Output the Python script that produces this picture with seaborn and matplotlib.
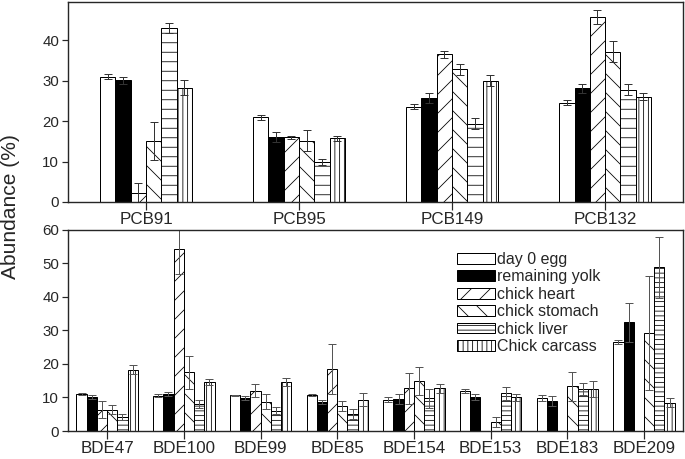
import pandas as pd
import matplotlib
matplotlib.use('Agg')
import matplotlib.pyplot as plt
import seaborn as sns

DPI = 57


def px(v):
    # pixel size -> points at this dpi
    return v * 72 / DPI


sns.set_style('ticks')
plt.rcParams['font.family'] = ['Liberation Sans', 'DejaVu Sans']
plt.rcParams['hatch.color'] = 'black'
plt.rcParams['hatch.linewidth'] = px(0.8)

tissues = ['day 0 egg', 'remaining yolk', 'chick heart', 'chick stomach', 'chick liver', 'Chick carcass']
colors = ['white', 'black', 'white', 'white', 'white', 'white']
top_hatches = ['', '', '/', '\\', '-', '||']
bottom_hatches = ['', '', '/', '\\', '--', '||']

# PCB panel
pcb_names = ['PCB91', 'PCB95', 'PCB149', 'PCB132']
pcb_egg = [31.0, 20.9, 23.6, 24.6]
pcb_yolk = [30.1, 16.0, 25.8, 28.1]
pcb_heart = [2.3, 16.0, 36.5, 45.8]
pcb_stomach = [15.2, 15.1, 32.8, 37.1]
pcb_liver = [43.1, 9.9, 19.4, 27.8]
pcb_carcass = [28.3, 15.7, 30.0, 26.0]
pcb_egg_err = [0.7, 0.7, 0.7, 0.6]
pcb_yolk_err = [0.8, 1.2, 1.2, 1.2]
pcb_heart_err = [2.3, 0.4, 0.8, 1.8]
pcb_stomach_err = [4.7, 2.6, 1.4, 2.6]
pcb_liver_err = [1.2, 0.8, 1.3, 1.4]
pcb_carcass_err = [1.8, 0.5, 1.4, 0.9]

# BDE panel
bde_names = ['BDE47', 'BDE100', 'BDE99', 'BDE85', 'BDE154', 'BDE153', 'BDE183', 'BDE209']
bde_egg = [10.9, 10.5, 10.6, 10.8, 9.4, 11.9, 9.9, 26.6]
bde_yolk = [10.2, 11.1, 9.8, 8.7, 9.5, 10.2, 8.9, 32.4]
bde_heart = [6.4, 54.3, 12.0, 18.6, 12.7, 0, 0, 0]
bde_stomach = [6.4, 17.5, 8.8, 7.5, 14.9, 2.7, 13.3, 29.3]
bde_liver = [4.2, 8.2, 6.1, 5.0, 9.7, 11.2, 12.5, 48.8]
bde_carcass = [18.3, 14.6, 14.5, 9.4, 12.7, 10.0, 12.5, 8.5]
bde_egg_err = [0.3, 0.5, 0.1, 0.3, 0.8, 0.6, 0.8, 0.5]
bde_yolk_err = [0.6, 0.6, 0.6, 0.7, 1.5, 0.9, 1.5, 5.7]
bde_heart_err = [2.5, 7.3, 1.9, 7.5, 4.6, 0, 0, 0]
bde_stomach_err = [1.3, 5.0, 2.1, 1.6, 4.1, 1.5, 4.2, 17.0]
bde_liver_err = [1.0, 1.2, 1.0, 1.5, 2.7, 2.0, 1.9, 9.2]
bde_carcass_err = [1.4, 1.0, 1.2, 2.0, 1.3, 1.0, 2.4, 1.3]


def long_table(names, vals, errs):
    rows = []
    for t, v, e in zip(tissues, vals, errs):
        for n, vi, ei in zip(names, v, e):
            rows.append({'congener': n, 'tissue': t, 'value': vi, 'err': ei})
    return pd.DataFrame(rows)


pcb = long_table(pcb_names,
                 [pcb_egg, pcb_yolk, pcb_heart, pcb_stomach, pcb_liver, pcb_carcass],
                 [pcb_egg_err, pcb_yolk_err, pcb_heart_err, pcb_stomach_err, pcb_liver_err, pcb_carcass_err])
bde = long_table(bde_names,
                 [bde_egg, bde_yolk, bde_heart, bde_stomach, bde_liver, bde_carcass],
                 [bde_egg_err, bde_yolk_err, bde_heart_err, bde_stomach_err, bde_liver_err, bde_carcass_err])

pal = dict(zip(tissues, colors))

fig = plt.figure(figsize=(685 / DPI, 459 / DPI), dpi=DPI)
ax1 = fig.add_axes([0.0993, 0.560, 0.898, 0.436])
ax2 = fig.add_axes([0.0993, 0.061, 0.898, 0.438])


def draw(ax, df, width, hatches, ecol, cap):
    sns.barplot(data=df, x='congener', y='value', hue='tissue', hue_order=tissues,
                palette=pal, saturation=1, width=width, errorbar=None,
                edgecolor='black', linewidth=px(1.0), legend=False, ax=ax)
    for cont, h, t in zip(ax.containers, hatches, tissues):
        sub = df[df['tissue'] == t]
        xs, ys, es = [], [], []
        for bar, e in zip(cont.patches, sub['err']):
            bar.set_hatch(h)
            if e > 0:
                xs.append(bar.get_x() + bar.get_width() / 2)
                ys.append(bar.get_height())
                es.append(e)
        ax.errorbar(xs, ys, yerr=es, fmt='none', ecolor=ecol, elinewidth=px(1.0),
                    capsize=px(cap), capthick=px(1.0))
    ax.set_xlabel('')
    ax.set_ylabel('')
    for s in ax.spines.values():
        s.set_linewidth(px(1.4))
        s.set_visible(True)
    ax.tick_params(axis='y', direction='out', length=px(6), width=px(1.2),
                   labelsize=px(15), pad=px(3))
    ax.tick_params(axis='x', direction='out', length=px(8), width=px(1.2),
                   labelsize=px(17), pad=px(2))


draw(ax1, pcb, 0.6, top_hatches, '#333333', 3.5)
ax1.set_ylim(0, 49.5)
ax1.set_yticks([0, 10, 20, 30, 40])
ax1.set_xlim(-0.51, 3.51)

draw(ax2, bde, 0.8, bottom_hatches, '#555555', 4)
ax2.set_ylim(0, 60)
ax2.set_yticks(range(0, 61, 10))
ax2.set_xlim(-0.51, 7.51)

ax2.legend(ax2.containers, tissues, loc='upper left', bbox_to_anchor=(0.62, 0.93),
           frameon=False, fontsize=px(16), handlelength=2.35, handleheight=0.65,
           handletextpad=0.15, labelspacing=0.15, borderpad=0)

fig.text(0.016, 0.55, 'Abundance (%)', rotation=90, ha='center', va='center', fontsize=px(21))

fig.savefig('out.png', dpi=DPI)
